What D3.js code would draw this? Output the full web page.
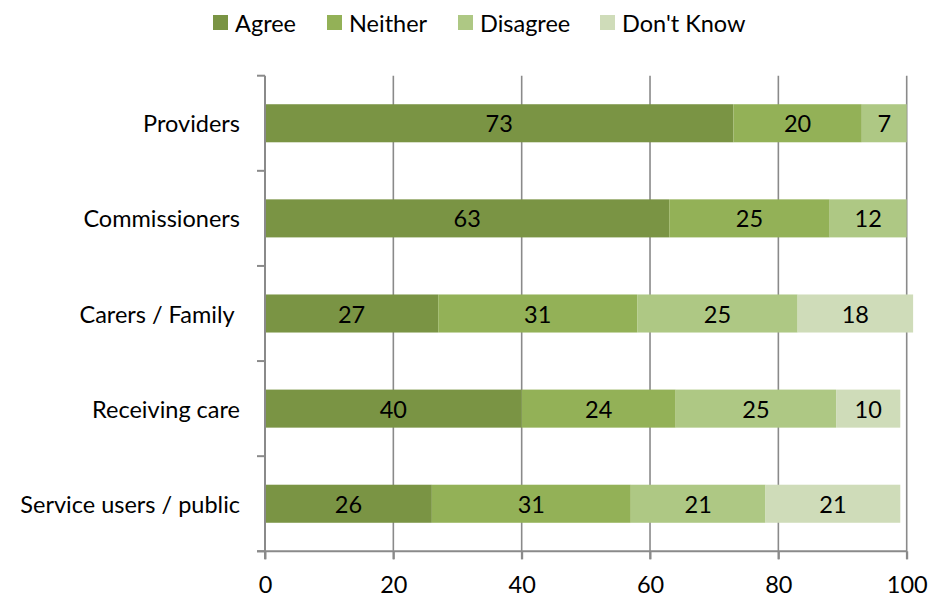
<!DOCTYPE html>
<html>
<head>
<meta charset="utf-8">
<script src="https://cdn.jsdelivr.net/npm/d3@7"></script>
<style>
  html, body { margin: 0; padding: 0; background: #fff; }
  svg { display: block; }
  text { font-family: Lato, "Open Sans", sans-serif; fill: #000; }
</style>
</head>
<body>
<svg id="chart" width="941" height="599"></svg>
<script>
// Respondent groups, top to bottom
const groups = ["Providers", "Commissioners", "Carers / Family ", "Receiving care", "Service users / public"];
// Response categories (stack order, left to right)
const responses = ["Agree", "Neither", "Disagree", "Don't Know"];
// Percentages per group, one array per response
const agree     = [73, 63, 27, 40, 26];
const neither   = [20, 25, 31, 24, 31];
const disagree  = [7, 12, 25, 25, 21];
const dontKnow  = [0, 0, 18, 10, 21];
// Value axis ticks
const xTicks = [0, 20, 40, 60, 80, 100];

const colors = ["#7a9444", "#93b157", "#aec884", "#cfdcb9"];
const fontSize = 23.5;

const rows = groups.map((g, i) => ({
  group: g,
  "Agree": agree[i],
  "Neither": neither[i],
  "Disagree": disagree[i],
  "Don't Know": dontKnow[i]
}));

const svg = d3.select("#chart");
const plotLeft = 265, plotRight = 906.7, plotTop = 75.7, plotBottom = 551.3;

const x = d3.scaleLinear().domain([0, 100]).range([plotLeft, plotRight]);
const y = d3.scaleBand().domain(groups).range([plotTop, plotBottom])
  .paddingInner(0.6).paddingOuter(0.3);
const color = d3.scaleOrdinal().domain(responses).range(colors);

const axisColor = "#8a8a8a";
const tickLen = 8;

// Vertical gridlines (extend down through the tick marks)
svg.append("g")
  .selectAll("line")
  .data(xTicks.filter(t => t > 0))
  .join("line")
  .attr("x1", d => x(d)).attr("x2", d => x(d))
  .attr("y1", plotTop).attr("y2", plotBottom + tickLen)
  .attr("stroke", axisColor).attr("stroke-width", 1.6);

// Stacked bars
const series = d3.stack().keys(responses)(rows);
const layers = svg.append("g")
  .selectAll("g")
  .data(series)
  .join("g")
  .attr("fill", d => color(d.key));

layers.selectAll("rect")
  .data(d => d.map(s => ({ key: d.key, s })))
  .join("rect")
  .attr("x", d => x(d.s[0]))
  .attr("y", d => y(d.s.data.group))
  .attr("width", d => x(d.s[1]) - x(d.s[0]))
  .attr("height", y.bandwidth());

// Segment value labels
layers.selectAll("text")
  .data(d => d.map(s => ({ key: d.key, s })).filter(d => d.s[1] - d.s[0] > 0))
  .join("text")
  .attr("x", d => (x(d.s[0]) + x(d.s[1])) / 2)
  .attr("y", d => y(d.s.data.group) + y.bandwidth() / 2)
  .attr("text-anchor", "middle")
  .attr("dominant-baseline", "central")
  .attr("font-size", fontSize)
  .text(d => d.s[1] - d.s[0]);

// Category axis (left): line plus ticks on band boundaries
const yAxis = svg.append("g");
yAxis.append("line")
  .attr("x1", plotLeft).attr("x2", plotLeft)
  .attr("y1", plotTop).attr("y2", plotBottom + tickLen)
  .attr("stroke", axisColor).attr("stroke-width", 2);
yAxis.selectAll("line.tick")
  .data(d3.range(groups.length + 1))
  .join("line")
  .attr("class", "tick")
  .attr("x1", plotLeft - tickLen).attr("x2", plotLeft)
  .attr("y1", i => plotTop + i * y.step()).attr("y2", i => plotTop + i * y.step())
  .attr("stroke", axisColor).attr("stroke-width", 2);
yAxis.selectAll("text")
  .data(groups)
  .join("text")
  .attr("x", 240)
  .attr("y", d => y(d) + y.bandwidth() / 2)
  .attr("text-anchor", "end")
  .attr("dominant-baseline", "central")
  .attr("font-size", fontSize)
  .style("white-space", "pre")
  .text(d => d);

// Value axis (bottom)
const xAxis = svg.append("g").attr("transform", `translate(0,${plotBottom})`)
  .call(d3.axisBottom(x).tickValues(xTicks).tickSize(tickLen).tickSizeOuter(0).tickPadding(17));
xAxis.select(".domain").attr("stroke", axisColor).attr("stroke-width", 2)
  .attr("d", `M${plotLeft - tickLen},0H${plotRight}`);
xAxis.selectAll(".tick line").attr("stroke", axisColor).attr("stroke-width", 2);
xAxis.selectAll(".tick text")
  .attr("font-size", fontSize)
  .attr("font-family", "Lato, 'Open Sans', sans-serif")
  .attr("fill", "#000");

// Legend
const legendX = [213, 327, 458, 600];
const legend = svg.append("g")
  .selectAll("g")
  .data(responses)
  .join("g")
  .attr("transform", (d, i) => `translate(${legendX[i]},15)`);
legend.append("rect")
  .attr("width", 15).attr("height", 15)
  .attr("fill", d => color(d));
legend.append("text")
  .attr("x", 22).attr("y", 8)
  .attr("dominant-baseline", "central")
  .attr("font-size", fontSize)
  .text(d => d);
</script>
</body>
</html>
